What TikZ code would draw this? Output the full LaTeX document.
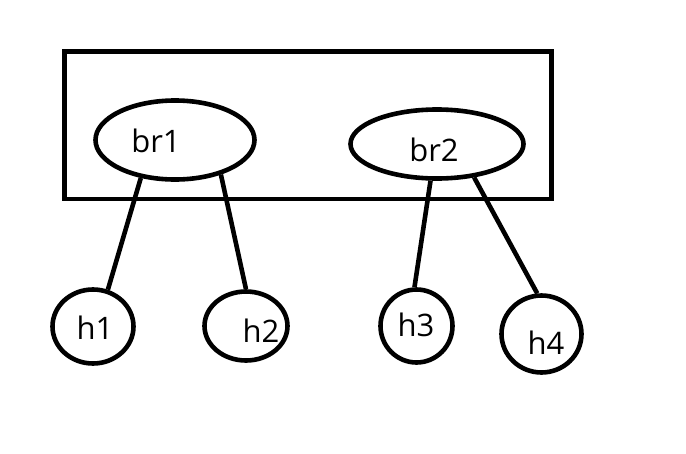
\documentclass[tikz,border=0pt]{standalone}
\usepackage{fontspec}
\setmainfont{Open Sans}
\usetikzlibrary{shapes.geometric}
\begin{document}
\begin{tikzpicture}[x=1pt,y=-1pt,
  thick line/.style={line width=4.6pt},
  bridge/.style={ellipse,draw,thick line,inner sep=0pt},
  host/.style={ellipse,draw,thick line,inner sep=0pt},
  lbl/.style={inner sep=0pt,font=\fontsize{31}{33}\selectfont}]
\useasboundingbox (0,0) rectangle (686,453);
% enclosing box
\node[draw,thick line,minimum width=487pt,minimum height=147.5pt,inner sep=0pt] (frame) at (308,125.25) {};
% bridges
\node[bridge,minimum width=159pt,minimum height=79pt] (br1) at (175,140) {};
\node[bridge,minimum width=173pt,minimum height=69pt] (br2) at (437,144) {};
% hosts
\node[host,minimum width=81pt,minimum height=74pt] (h1) at (93,326.5) {};
\node[host,minimum width=83pt,minimum height=69pt] (h2) at (246,326) {};
\node[host,minimum width=72pt,minimum height=73pt] (h3) at (416.5,326) {};
\node[host,minimum width=80pt,minimum height=77pt] (h4) at (541.5,334) {};
% labels
\node[lbl] (tbr1) at (156,141) {br1};
\node[lbl] (tbr2) at (434,150) {br2};
\node[lbl] (th1) at (95,328) {h1};
\node[lbl] (th2) at (261,331) {h2};
\node[lbl] (th3) at (416,325) {h3};
\node[lbl] (th4) at (546,343) {h4};
% links
\draw[thick line] (br1.228.5) -- (h1.68.7);
\draw[thick line] (br1.323.7) -- (h2.90);
\draw[thick line] (br2.260.3) -- (h3.93);
\draw[thick line] (br2.318) -- (h4.96);
\end{tikzpicture}
\end{document}
